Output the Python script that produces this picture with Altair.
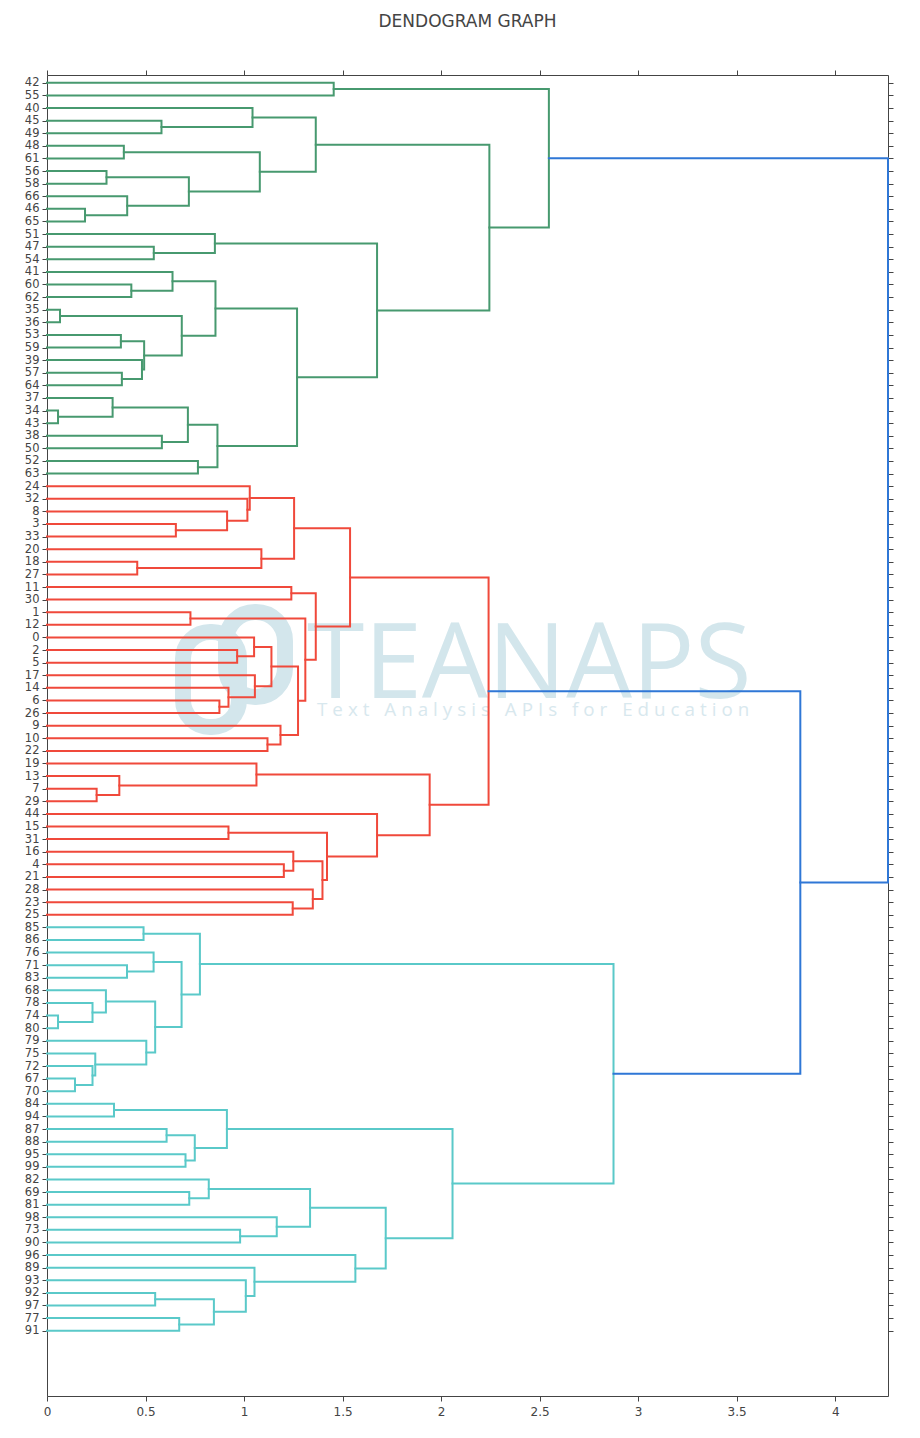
import altair as alt
import pandas as pd

TITLE = "DENDOGRAM GRAPH"
WM_TITLE = "TEANAPS"
WM_SUB = "Text Analysis APIs for Education"

# leaf order, top to bottom
leaves = ["42", "55", "40", "45", "49", "48", "61", "56", "58", "66", "46", "65",
          "51", "47", "54", "41", "60", "62", "35", "36", "53", "59", "39", "57",
          "64", "37", "34", "43", "38", "50", "52", "63",
          "24", "32", "8", "3", "33", "20", "18", "27", "11", "30", "1", "12",
          "0", "2", "5", "17", "14", "6", "26", "9", "10", "22", "19", "13", "7",
          "29", "44", "15", "31", "16", "4", "21", "28", "23", "25",
          "85", "86", "76", "71", "83", "68", "78", "74", "80", "79", "75", "72",
          "67", "70", "84", "94", "87", "88", "95", "99", "82", "69", "81", "98",
          "73", "90", "96", "89", "93", "92", "97", "77", "91"]

# merges (node k is "n{k}"): left child, right child, height, cluster colour
merge_left = ["42", "45", "40", "48", "56", "46", "66", "n4", "n3", "n2",
              "47", "51", "60", "41", "35", "53", "57", "39", "n15", "n14",
              "n13", "34", "37", "38", "n22", "52", "n24", "n20", "n11", "n9",
              "n0",
              "3", "8", "32", "24", "18", "20", "n34", "11", "1", "2", "0", "6",
              "14", "17", "n41", "10", "9", "n45", "n39", "n38", "n37", "7",
              "13", "19", "15", "4", "16", "23", "28", "n57", "n55", "44",
              "n54", "n51",
              "85", "71", "76", "74", "78", "68", "67", "72", "75", "79", "n70",
              "n67", "n65", "84", "87", "95", "n79", "n78", "69", "82", "73",
              "98", "n84", "92", "77", "n88", "93", "89", "96", "n87", "n82",
              "n77",
              "n64", "n30"]
merge_right = ["55", "49", "n1", "61", "58", "65", "n5", "n6", "n7", "n8",
               "54", "n10", "62", "n12", "36", "59", "64", "n16", "n17", "n18",
               "n19", "43", "n21", "50", "n23", "63", "n25", "n26", "n27", "n28",
               "n29",
               "33", "n31", "n32", "n33", "27", "n35", "n36", "30", "12", "5",
               "n40", "26", "n42", "n43", "n44", "22", "n46", "n47", "n48",
               "n49", "n50", "29", "n52", "n53", "31", "21", "n56", "25", "n58",
               "n59", "n60", "n61", "n62", "n63",
               "86", "83", "n66", "80", "n68", "n69", "70", "n71", "n72", "n73",
               "n74", "n75", "n76", "94", "88", "99", "n80", "n81", "81", "n83",
               "90", "n85", "n86", "97", "91", "n89", "n90", "n91", "n92", "n93",
               "n94", "n95",
               "n96", "n97"]
merge_height = [1.455, 0.581, 1.043, 0.390, 0.302, 0.193, 0.407, 0.720, 1.080, 1.364,
                0.542, 0.852, 0.428, 0.637, 0.066, 0.375, 0.380, 0.482, 0.493, 0.684,
                0.855, 0.056, 0.333, 0.583, 0.715, 0.766, 0.865, 1.269, 1.675, 2.245,
                2.547,
                0.654, 0.914, 1.017, 1.029, 0.458, 1.088, 1.254, 1.240, 0.728, 0.965,
                1.051, 0.875, 0.921, 1.055, 1.139, 1.119, 1.185, 1.274, 1.311, 1.364,
                1.538, 0.252, 0.367, 1.063, 0.921, 1.202, 1.250, 1.247, 1.349, 1.398,
                1.421, 1.675, 1.942, 2.241,
                0.490, 0.406, 0.541, 0.056, 0.231, 0.299, 0.142, 0.231, 0.245, 0.504,
                0.549, 0.683, 0.776, 0.340, 0.607, 0.703, 0.750, 0.913, 0.722, 0.821,
                0.980, 1.166, 1.335, 0.549, 0.671, 0.847, 1.009, 1.053, 1.565, 1.719,
                2.058, 2.875,
                3.823, 4.268]
merge_cluster = (["green"] * 31 + ["red"] * 34 + ["cyan"] * 32 + ["blue"] * 2)

cluster_names = ["green", "red", "cyan", "blue"]
cluster_colors = ["#47996f", "#f0493b", "#5ac9c9", "#2f77d6"]

x_ticks = [0, 0.5, 1, 1.5, 2, 2.5, 3, 3.5, 4]

# ---- build link paths (scipy-style U links) ----
pos = {lab: 5 + 10 * i for i, lab in enumerate(leaves)}
hgt = {lab: 0.0 for lab in leaves}
rows = []
for k, (a, b, h, c) in enumerate(zip(merge_left, merge_right, merge_height, merge_cluster)):
    node = f"n{k}"
    ya, yb = pos[a], pos[b]
    pts = [(hgt[a], ya), (h, ya), (h, yb), (hgt[b], yb)]
    for j, (xv, yv) in enumerate(pts):
        rows.append({"link": node, "ord": j, "d": xv, "p": yv, "cluster": c})
    pos[node] = (ya + yb) / 2
    hgt[node] = h
df = pd.DataFrame(rows)

leaf_pos = [5 + 10 * i for i in range(len(leaves))]
label_arr = "[" + ",".join("'" + s + "'" for s in leaves) + "]"

FONT = "DejaVu Sans"
AX = "#444444"

xscale = alt.Scale(domain=[0, max(merge_height)], nice=False, zero=False)
yscale = alt.Scale(domain=[-1.2, 1046.8], reverse=True, nice=False, zero=False)

common_axis = dict(domainColor=AX, domainWidth=1, tickColor=AX, tickWidth=1, tickSize=5,
                   grid=False, title=None, labelColor=AX, labelFont=FONT)

lines = alt.Chart(df).mark_line(strokeWidth=2, strokeCap="square", strokeJoin="miter").encode(
    x=alt.X("d:Q", scale=xscale,
            axis=alt.Axis(orient="bottom", values=x_ticks, format="~g", labelFontSize=12,
                          labelPadding=5, labelFlush=False, **common_axis)),
    y=alt.Y("p:Q", scale=yscale,
            axis=alt.Axis(orient="left", values=leaf_pos, labelFontSize=11.5, labelPadding=3,
                          labelExpr=label_arr + "[round((datum.value-5)/10)]",
                          labelOverlap=False, labelBound=False, labelFlush=False,
                          **common_axis)),
    detail="link:N",
    order="ord:Q",
    color=alt.Color("cluster:N", scale=alt.Scale(domain=cluster_names, range=cluster_colors),
                    legend=None),
)

mirror = alt.Chart(df).mark_point(opacity=0).encode(
    x=alt.X("d:Q", scale=xscale,
            axis=alt.Axis(orient="top", values=x_ticks, labels=False, **common_axis)),
    y=alt.Y("p:Q", scale=yscale,
            axis=alt.Axis(orient="right", values=leaf_pos, labels=False, **common_axis)),
)

one = pd.DataFrame({"a": [0]})
WM = "#d3e6ec"
ring1 = alt.Chart(one).mark_rect(fillOpacity=0, stroke=WM, strokeWidth=16, cornerRadius=27).encode(
    x=alt.value(136), x2=alt.value(192), y=alt.value(557), y2=alt.value(652))
ring2 = alt.Chart(one).mark_rect(fillOpacity=0, stroke=WM, strokeWidth=16, cornerRadius=29).encode(
    x=alt.value(179), x2=alt.value(238), y=alt.value(537), y2=alt.value(622))
wm_title = alt.Chart(one).mark_text(text=WM_TITLE, font="Open Sans", fontSize=104, color=WM,
                                    align="left", baseline="alphabetic").encode(
    x=alt.value(260), y=alt.value(623))
spaced_sub = "\u2009\u200a".join(list(WM_SUB))
wm_sub = alt.Chart(one).mark_text(text=spaced_sub, font="Open Sans", fontSize=18.8, color="#d8e8ee",
                                  align="left", baseline="alphabetic").encode(
    x=alt.value(270), y=alt.value(641))

chart = alt.layer(ring1, ring2, wm_title, wm_sub, mirror, lines).resolve_axis(
    x="independent", y="independent"
).properties(
    width=841, height=1321,
    padding={"left": 47, "top": 75, "right": 32, "bottom": 42},
    autosize=alt.AutoSizeParams(type="none"),
    title=alt.TitleParams(TITLE, font=FONT, fontSize=17, fontWeight="normal", color=AX,
                          anchor="middle", baseline="alphabetic", offset=26),
).configure_view(stroke=None).configure(background="white")

chart.save("out.html", embed_options={"renderer": "svg", "actions": False})
